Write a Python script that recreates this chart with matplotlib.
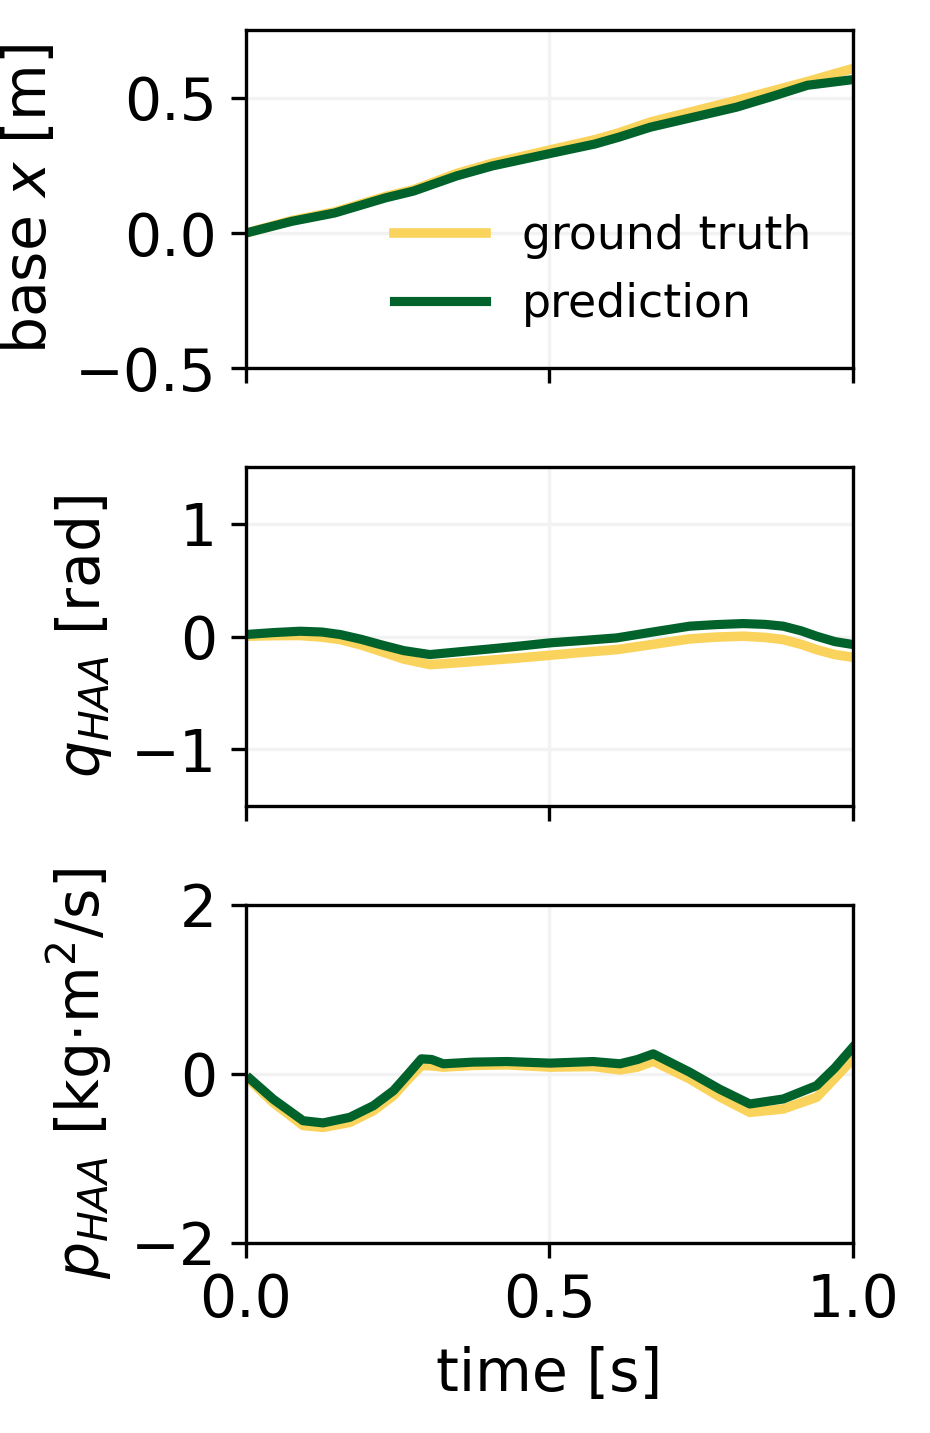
import numpy as np
import matplotlib
matplotlib.use("Agg")
import matplotlib.pyplot as plt

# colours
c_gt = '#FAD35C'
c_pred = '#01632B'

# base x [m]
t_base = [0.0, 0.075, 0.146, 0.23, 0.276, 0.347, 0.406, 0.497, 0.575, 0.614,
          0.666, 0.737, 0.808, 0.867, 0.925, 1.0]
base_gt = [0.0, 0.046, 0.078, 0.135, 0.16, 0.22, 0.258, 0.305, 0.345, 0.37,
           0.41, 0.45, 0.49, 0.525, 0.56, 0.608]
base_pred = [0.0, 0.043, 0.074, 0.13, 0.155, 0.211, 0.248, 0.292, 0.329, 0.354,
             0.391, 0.428, 0.465, 0.505, 0.546, 0.567]

# q_HAA [rad]
t_q = [0.0, 0.045, 0.089, 0.125, 0.155, 0.19, 0.221, 0.26, 0.303, 0.35,
       0.402, 0.45, 0.501, 0.555, 0.611, 0.67, 0.731, 0.775, 0.819, 0.855,
       0.885, 0.915, 0.94, 0.97, 1.0]
q_gt = [0.003, 0.008, 0.009, -0.005, -0.027, -0.075, -0.13, -0.2, -0.249, -0.232,
        -0.21, -0.19, -0.166, -0.14, -0.116, -0.07, -0.021, -0.005, 0.003, -0.008,
        -0.027, -0.07, -0.116, -0.16, -0.184]
q_pred = [0.018, 0.035, 0.047, 0.04, 0.018, -0.025, -0.071, -0.125, -0.16, -0.136,
          -0.11, -0.085, -0.056, -0.035, -0.012, 0.04, 0.092, 0.106, 0.115, 0.108,
          0.092, 0.05, 0.003, -0.045, -0.071]

# p_HAA [kg m^2/s]
t_p = [0.007, 0.045, 0.094, 0.127, 0.171, 0.21, 0.243, 0.265, 0.289, 0.306,
       0.325, 0.374, 0.43, 0.501, 0.572, 0.616, 0.645, 0.671, 0.731, 0.78,
       0.83, 0.885, 0.94, 0.97, 1.0]
p_gt = [-0.08, -0.34, -0.61, -0.633, -0.574, -0.435, -0.257, -0.08, 0.099, 0.095,
        0.08, 0.1, 0.107, 0.08, 0.087, 0.047, 0.08, 0.15, -0.06, -0.27,
        -0.455, -0.415, -0.277, -0.05, 0.178]
p_pred = [-0.06, -0.3, -0.554, -0.58, -0.514, -0.376, -0.198, -0.02, 0.178, 0.17,
          0.119, 0.139, 0.146, 0.127, 0.146, 0.119, 0.17, 0.237, 0.02, -0.18,
          -0.356, -0.297, -0.139, 0.07, 0.317]

x_ticks = [0.0, 0.5, 1.0]
x_ticklabels = ['0.0', '0.5', '1.0']

panels = [
    (t_base, base_gt, base_pred, 'base $x$ [m]', (-0.5, 0.75), [-0.5, 0.0, 0.5], ['\u22120.5', '0.0', '0.5']),
    (t_q, q_gt, q_pred, '$q_{HAA}$ [rad]', (-1.5, 1.5), [-1, 0, 1], ['\u22121', '0', '1']),
    (t_p, p_gt, p_pred, '$p_{HAA}$ [kg$\\cdot$m$^2$/s]', (-2, 2), [-2, 0, 2], ['\u22122', '0', '2']),
]

fig, axes = plt.subplots(3, 1, figsize=(3.1, 4.7767), dpi=300, sharex=True)
fig.subplots_adjust(left=0.2645, right=0.9172, top=0.979, bottom=0.1326, hspace=0.293)

for ax, (t, gt, pred, lab, ylim, yt, ytl) in zip(axes, panels):
    ax.grid(True, color='0.95', lw=0.8)
    ax.set_axisbelow(True)
    ax.plot(t, gt, color=c_gt, lw=2.3, label='ground truth')
    ax.plot(t, pred, color=c_pred, lw=2.2, label='prediction')
    ax.set_xlim(0, 1)
    ax.set_ylim(*ylim)
    ax.set_yticks(yt)
    ax.set_yticklabels(ytl)
    ax.set_ylabel(lab, fontsize=14)
    ax.tick_params(labelsize=14)

axes[-1].set_xticks(x_ticks)
axes[-1].set_xticklabels(x_ticklabels)
axes[-1].set_xlabel('time [s]', fontsize=14)

axes[0].legend(loc='lower right', frameon=False, fontsize=11)

fig.savefig('out.png', dpi=300)
